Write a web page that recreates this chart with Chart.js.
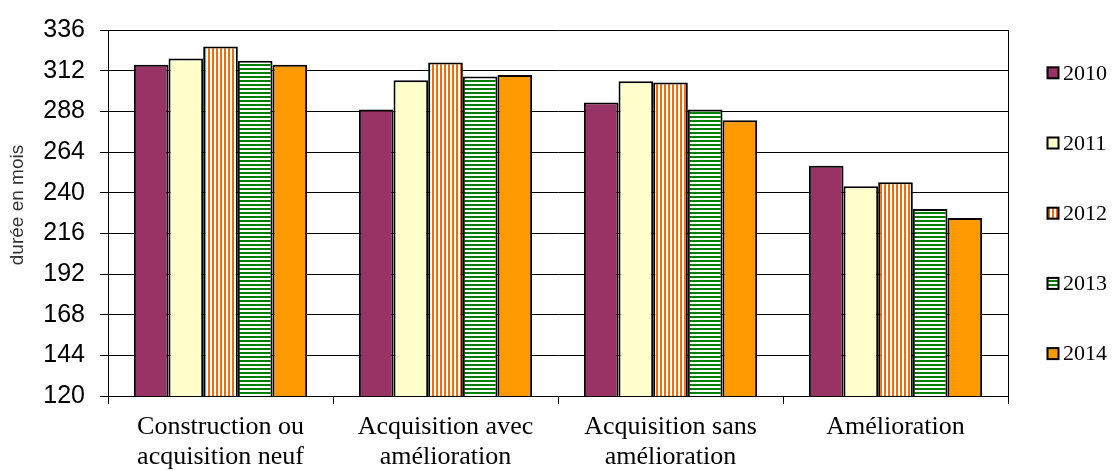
<!DOCTYPE html>
<html>
<head>
<meta charset="utf-8">
<script src="https://cdn.jsdelivr.net/npm/chart.js@4/dist/chart.umd.min.js"></script>
<style>
  html, body { margin: 0; padding: 0; background: #fff; }
  #wrap { width: 1115px; height: 471px; }
</style>
</head>
<body>
<div id="wrap"><canvas id="c" width="1115" height="471"></canvas></div>
<script>
// Loan types (two-line labels) and loan durations in months per year
const categories = [
  ['Construction ou', 'acquisition neuf'],
  ['Acquisition avec', 'amélioration'],
  ['Acquisition sans', 'amélioration'],
  ['Amélioration']
];
const years = ['2010', '2011', '2012', '2013', '2014'];
const values2010 = [315.5, 289.1, 293.2, 255.9];
const values2011 = [319.2, 306.3, 305.7, 243.8];
const values2012 = [326.2, 316.8, 305.0, 246.1];
const values2013 = [317.8, 308.6, 289.1, 230.3];
const values2014 = [315.5, 309.4, 282.7, 225.0];
const yMin = 120, yMax = 336, yStep = 24;
const yTitle = 'durée en mois';

// Striped fills
function stripes(vertical, cols) {
  const n = cols.length;
  const cv = document.createElement('canvas');
  cv.width = vertical ? n : 1;
  cv.height = vertical ? 1 : n;
  const g = cv.getContext('2d');
  cols.forEach((col, i) => {
    g.fillStyle = col;
    if (vertical) g.fillRect(i, 0, 1, 1); else g.fillRect(0, i, 1, 1);
  });
  return g.createPattern(cv, 'repeat');
}
const ctx = document.getElementById('c').getContext('2d');
const fill2012 = stripes(true, ['#FF6600', '#FF6600', '#CCFFFF', '#EEFFFF']);
const fill2013 = stripes(false, ['#008000', '#008000', '#FFFFFF', '#FFFFFF']);

const seriesValues = [values2010, values2011, values2012, values2013, values2014];
const seriesFills = ['#993366', '#FFFFCC', fill2012, fill2013, '#FF9900'];

const datasets = years.map((y, i) => ({
  label: y,
  data: seriesValues[i],
  backgroundColor: seriesFills[i],
  borderColor: '#000',
  borderWidth: 2,
  borderSkipped: false,
  categoryPercentage: 0.77,
  barPercentage: 1.0
}));

// Plot frame on the right, rotated axis title, and the side legend
const decorations = {
  id: 'decorations',
  afterDatasetsDraw(chart) {
    const { ctx, chartArea: a } = chart;
    ctx.save();
    ctx.strokeStyle = '#000';
    ctx.lineWidth = 1;
    ctx.beginPath();
    ctx.moveTo(Math.round(a.right) + 0.5, a.top);
    ctx.lineTo(Math.round(a.right) + 0.5, a.bottom);
    ctx.stroke();
    ctx.restore();
  },
  afterDraw(chart) {
    const { ctx } = chart;
    ctx.save();
    // axis title
    ctx.translate(18, 205);
    ctx.rotate(-Math.PI / 2);
    ctx.font = '19px "Liberation Sans", Arial, sans-serif';
    ctx.fillStyle = '#333';
    ctx.textAlign = 'center';
    ctx.textBaseline = 'middle';
    ctx.fillText(yTitle, 0, 0);
    ctx.restore();

    // legend
    ctx.save();
    ctx.font = '22px "Liberation Serif", "Times New Roman", serif';
    ctx.textBaseline = 'middle';
    ctx.textAlign = 'left';
    chart.data.datasets.forEach((ds, i) => {
      const cy = 72.8 + i * 70.2;
      const bx = 1047.5, bs = 11;
      ctx.fillStyle = ds.backgroundColor;
      ctx.fillRect(bx, cy - bs / 2, bs, bs);
      ctx.strokeStyle = '#000';
      ctx.lineWidth = 2;
      ctx.strokeRect(bx, cy - bs / 2, bs, bs);
      ctx.fillStyle = '#000';
      ctx.fillText(ds.label, 1063, cy + 1);
    });
    ctx.restore();
  }
};

new Chart(ctx, {
  type: 'bar',
  data: { labels: categories, datasets },
  plugins: [decorations],
  options: {
    responsive: false,
    animation: false,
    layout: { padding: { top: 27, right: 107, bottom: 0, left: 0 } },
    plugins: {
      legend: { display: false },
      tooltip: { enabled: false },
      title: { display: false }
    },
    scales: {
      x: {
        offset: true,
        grid: {
          offset: true,
          drawOnChartArea: false,
          drawTicks: true,
          tickLength: 8,
          color: '#000',
          lineWidth: 1
        },
        border: { color: '#000', width: 1 },
        ticks: {
          color: '#000',
          padding: 9,
          maxRotation: 0,
          autoSkip: false,
          font: { family: '"Liberation Serif", "Times New Roman", serif', size: 26, lineHeight: 1.12 }
        },
        afterFit(scale) { scale.height = 75; }
      },
      y: {
        min: yMin,
        max: yMax,
        ticks: {
          stepSize: yStep,
          color: '#000',
          padding: 15,
          font: { family: '"Liberation Sans", Arial, sans-serif', size: 25 }
        },
        grid: { color: '#000', lineWidth: 1, tickLength: 8, drawTicks: true },
        border: { color: '#000', width: 1 },
        afterFit(scale) { scale.width = 108; }
      }
    }
  }
});
</script>
</body>
</html>
